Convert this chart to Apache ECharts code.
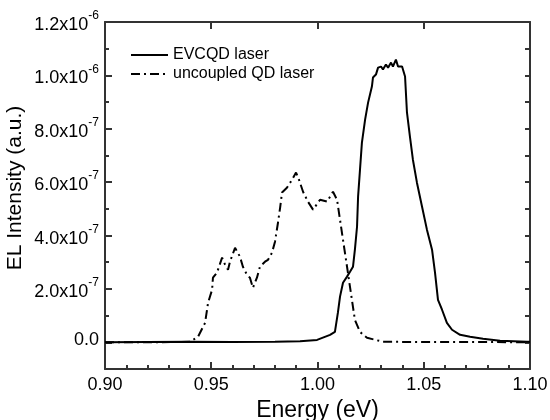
<!DOCTYPE html>
<html>
<head>
<meta charset="utf-8">
<script src="https://cdn.jsdelivr.net/npm/echarts@6/dist/echarts.min.js"></script>
<style>html,body{margin:0;padding:0;background:#fff}#c{width:550px;height:420px}</style>
</head>
<body>
<div id="c"></div>
<script>
// ---- data ----
const evcqdEnergy = [0.900, 0.940, 0.960, 0.980, 0.9918, 0.9998, 1.0059, 1.0082, 1.0096, 1.0106, 1.0120, 1.0139, 1.0153, 1.0167, 1.0176, 1.0186, 1.0191, 1.0200, 1.0209, 1.0224, 1.0238, 1.0256, 1.0261, 1.0275, 1.0285, 1.0299, 1.0308, 1.0322, 1.0332, 1.0346, 1.0355, 1.0369, 1.0379, 1.0398, 1.0412, 1.0421, 1.0435, 1.0449, 1.0468, 1.0492, 1.0515, 1.0539, 1.0553, 1.0567, 1.0586, 1.0609, 1.0633, 1.0671, 1.0718, 1.0779, 1.0859, 1.0986, 1.100];
const evcqdIntensity = [0, 0.002e-6, 0.001e-6, 0.002e-6, 0.004e-6, 0.009e-6, 0.028e-6, 0.039e-6, 0.111e-6, 0.171e-6, 0.223e-6, 0.246e-6, 0.264e-6, 0.283e-6, 0.347e-6, 0.433e-6, 0.546e-6, 0.647e-6, 0.748e-6, 0.834e-6, 0.898e-6, 0.958e-6, 0.992e-6, 1.003e-6, 1.029e-6, 1.033e-6, 1.022e-6, 1.041e-6, 1.029e-6, 1.048e-6, 1.033e-6, 1.059e-6, 1.033e-6, 1.033e-6, 0.996e-6, 0.861e-6, 0.771e-6, 0.684e-6, 0.598e-6, 0.508e-6, 0.422e-6, 0.347e-6, 0.261e-6, 0.159e-6, 0.122e-6, 0.073e-6, 0.047e-6, 0.028e-6, 0.021e-6, 0.013e-6, 0.006e-6, 0.002e-6, 0.002e-6];

const uncoupledEnergy = [0.900, 0.920, 0.9400, 0.9438, 0.9471, 0.9485, 0.9504, 0.9508, 0.9527, 0.9551, 0.9565, 0.9579, 0.9588, 0.9612, 0.9635, 0.9649, 0.9668, 0.9682, 0.9696, 0.9715, 0.9729, 0.9753, 0.9767, 0.9786, 0.9800, 0.9814, 0.9824, 0.9833, 0.9856, 0.9880, 0.9899, 0.9913, 0.9932, 0.9955, 0.9979, 1.0012, 1.0045, 1.0073, 1.0092, 1.0106, 1.0120, 1.0139, 1.0148, 1.0162, 1.0176, 1.0200, 1.0233, 1.0308, 1.0500, 1.0800, 1.100];
const uncoupledIntensity = [0, 0, 0.002e-6, 0.021e-6, 0.073e-6, 0.148e-6, 0.197e-6, 0.242e-6, 0.261e-6, 0.317e-6, 0.291e-6, 0.272e-6, 0.302e-6, 0.354e-6, 0.321e-6, 0.283e-6, 0.253e-6, 0.242e-6, 0.204e-6, 0.242e-6, 0.283e-6, 0.302e-6, 0.309e-6, 0.336e-6, 0.377e-6, 0.448e-6, 0.504e-6, 0.561e-6, 0.579e-6, 0.609e-6, 0.636e-6, 0.609e-6, 0.564e-6, 0.527e-6, 0.497e-6, 0.534e-6, 0.527e-6, 0.564e-6, 0.534e-6, 0.459e-6, 0.384e-6, 0.283e-6, 0.234e-6, 0.159e-6, 0.084e-6, 0.039e-6, 0.017e-6, 0.002e-6, 0.001e-6, 0.001e-6, 0];

const seriesNames = ['EVCQD laser', 'uncoupled QD laser'];
const xMajorTicks = [0.90, 0.95, 1.00, 1.05, 1.10];
const yMajorTicks = [0, 2e-7, 4e-7, 6e-7, 8e-7, 1.0e-6, 1.2e-6];
const xName = 'Energy (eV)';
const yName = 'EL Intensity (a.u.)';

// ---- chart ----
const FONT = '"Liberation Sans", Arial, sans-serif';
const pairs = (xs, ys) => xs.map((x, i) => [x, ys[i]]);

function yFmt(v) {
  if (Math.abs(v) < 1e-12) return '{z|0.0}';
  const s = v.toExponential(1).split('e');
  return '{b|' + s[0] + 'x10}{s|' + parseInt(s[1], 10) + '}';
}

const chart = echarts.init(document.getElementById('c'));
chart.setOption({
  animation: false,
  grid: { left: 105, right: 20, top: 22, bottom: 51, outerBoundsMode: 'none' },
  legend: {
    orient: 'vertical', left: 125, top: 42, itemWidth: 37, itemHeight: 14, itemGap: 3,
    itemStyle: { opacity: 0 },
    textStyle: { fontFamily: FONT, fontSize: 16, color: '#000' },
    data: seriesNames
  },
  graphic: [{
    type: 'text', x: 15, y: 188, rotation: Math.PI / 2,
    style: { text: yName, fontFamily: FONT, fontSize: 21, fill: '#000', align: 'center', verticalAlign: 'middle' }
  }],
  xAxis: [
    {
      type: 'value', min: 0.9, max: 1.1, position: 'bottom', interval: 0.05,
      axisLine: { show: true, onZero: false, lineStyle: { color: '#333', width: 2 } },
      axisTick: { show: true, inside: true, length: 7, lineStyle: { color: '#333', width: 2 } },
      axisLabel: { customValues: xMajorTicks, margin: 7, color: '#000', fontFamily: FONT, fontSize: 18, formatter: v => v.toFixed(2) },
      splitLine: { show: false },
      name: xName, nameLocation: 'middle', nameGap: 24,
      nameTextStyle: { fontFamily: FONT, fontSize: 23, color: '#000' }
    },
    {
      type: 'value', min: 0.9, max: 1.1, position: 'bottom', interval: 0.01,
      axisLabel: { show: false }, splitLine: { show: false },
      axisLine: { show: false, onZero: false },
      axisTick: { show: true, inside: true, length: 4, lineStyle: { color: '#333', width: 2 } }
    },
    {
      type: 'value', min: 0.9, max: 1.1, position: 'top', interval: 0.05,
      axisLabel: { show: false }, splitLine: { show: false },
      axisLine: { show: true, onZero: false, lineStyle: { color: '#333', width: 2 } },
      axisTick: { show: true, inside: true, length: 7, lineStyle: { color: '#333', width: 2 } }
    }
  ],
  yAxis: [
    {
      type: 'value', min: -1e-7, max: 1.2e-6, position: 'left', interval: 1e-7,
      axisLine: { show: true, onZero: false, lineStyle: { color: '#333', width: 2 } },
      axisTick: { show: true, inside: true, length: 7, customValues: yMajorTicks, lineStyle: { color: '#333', width: 2 } },
      axisLabel: {
        customValues: yMajorTicks, margin: 6, formatter: yFmt, padding: [6, 0, 0, 0],
        rich: {
          b: { fontFamily: FONT, fontSize: 18, color: '#000', lineHeight: 18, verticalAlign: 'bottom' },
          s: { fontFamily: FONT, fontSize: 12, color: '#000', lineHeight: 12, verticalAlign: 'bottom', padding: [0, 0, 12, 0] },
          z: { fontFamily: FONT, fontSize: 18, color: '#000', lineHeight: 18, padding: [0, 0, 11, 0] }
        }
      },
      splitLine: { show: false }
    },
    {
      type: 'value', min: -1e-7, max: 1.2e-6, position: 'left', interval: 1e-7,
      axisLabel: { show: false }, splitLine: { show: false },
      axisLine: { show: false, onZero: false },
      axisTick: { show: true, inside: true, length: 4, lineStyle: { color: '#333', width: 2 } }
    },
    {
      type: 'value', min: -1e-7, max: 1.2e-6, position: 'right', interval: 1e-7,
      axisLabel: { show: false }, splitLine: { show: false },
      axisLine: { show: true, onZero: false, lineStyle: { color: '#333', width: 2 } },
      axisTick: { show: true, inside: true, length: 5, lineStyle: { color: '#333', width: 2 } }
    }
  ],
  series: [
    {
      name: seriesNames[0], type: 'line', symbol: 'none',
      data: pairs(evcqdEnergy, evcqdIntensity),
      lineStyle: { color: '#000', width: 2 }, itemStyle: { color: '#000' }
    },
    {
      name: seriesNames[1], type: 'line', symbol: 'none',
      data: pairs(uncoupledEnergy, uncoupledIntensity),
      lineStyle: { color: '#000', width: 2, type: [9, 4, 2, 4] }, itemStyle: { color: '#000' }
    }
  ]
});
</script>
</body>
</html>
